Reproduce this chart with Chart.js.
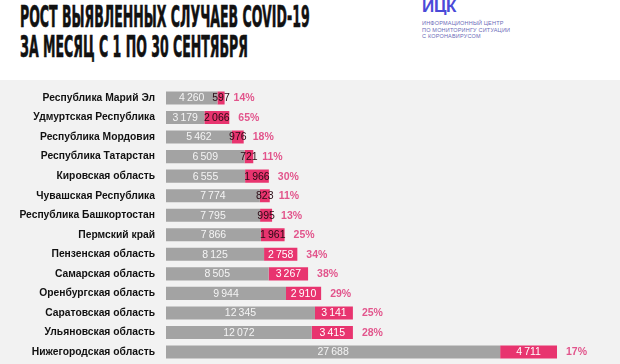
<!DOCTYPE html>
<html><head><meta charset="utf-8">
<script src="https://cdn.jsdelivr.net/npm/chart.js@4"></script>
<style>
html,body{margin:0;padding:0;width:620px;height:364px;overflow:hidden;background:#fff;font-family:"Liberation Sans",Arial,sans-serif;}
#title{position:absolute;left:20px;top:2px;font-family:"Liberation Sans Narrow","DejaVu Sans Condensed",sans-serif;font-weight:bold;font-size:30px;line-height:30px;color:#111;transform:scaleX(0.465);transform-origin:0 0;white-space:nowrap;-webkit-text-stroke:0.6px #111;}
#logo{position:absolute;left:422px;top:-1px;}
#logo .big{font-family:"Liberation Sans",sans-serif;font-weight:bold;font-size:17px;color:#4a4ad8;line-height:16px;letter-spacing:-0.3px;}
#logo .small{font-size:5.5px;line-height:6.5px;color:#6a6ab8;margin-top:5px;letter-spacing:0.2px;}
#panel{position:absolute;left:0;top:80px;width:620px;height:284px;background:#f2f2f2;}
#c{position:absolute;left:0;top:-9px;}
</style></head>
<body>
<div id="title">РОСТ ВЫЯВЛЕННЫХ СЛУЧАЕВ COVID-19<br>ЗА МЕСЯЦ С 1 ПО 30 СЕНТЯБРЯ</div>
<div id="logo"><div class="big">ИЦК</div><div class="small">ИНФОРМАЦИОННЫЙ ЦЕНТР<br>ПО МОНИТОРИНГУ СИТУАЦИИ<br>С КОРОНАВИРУСОМ</div></div>
<div id="panel"><canvas id="c" width="620" height="308"></canvas></div>
<script>
const regions = ["Республика Марий Эл","Удмуртская Республика","Республика Мордовия","Республика Татарстан","Кировская область","Чувашская Республика","Республика Башкортостан","Пермский край","Пензенская область","Самарская область","Оренбургская область","Саратовская область","Ульяновская область","Нижегородская область"];
const baseCases = [4260,3179,5462,6509,6555,7774,7795,7866,8125,8505,9944,12345,12072,27688];
const growthCases = [597,2066,976,721,1966,823,995,1961,2758,3267,2910,3141,3415,4711];
const growthPct = ["14%","65%","18%","11%","30%","11%","13%","25%","34%","38%","29%","25%","28%","17%"];

const fmt = v => String(v).replace(/\B(?=(\d{3})+(?!\d))/g, "\u2009");

const labelPlugin = {
  id: "labels",
  afterDatasetsDraw(chart) {
    const ctx = chart.ctx;
    const m0 = chart.getDatasetMeta(0), m1 = chart.getDatasetMeta(1);
    ctx.save();
    ctx.textBaseline = "middle";
    for (let i = 0; i < regions.length; i++) {
      const b0 = m0.data[i], b1 = m1.data[i];
      ctx.font = "10.5px 'Liberation Sans', Arial, sans-serif";
      ctx.textAlign = "center";
      ctx.fillStyle = "#f4f4f4";
      ctx.fillText(fmt(baseCases[i]), (b0.base + b0.x) / 2, b0.y + 0.5);
      const t = fmt(growthCases[i]);
      const w = ctx.measureText(t).width;
      const segW = b1.x - b1.base;
      ctx.fillStyle = (w + 4 < segW) ? "#ffffff" : "#2a0a14";
      ctx.fillText(t, (b1.base + b1.x) / 2, b1.y + 0.5);
      ctx.textAlign = "left";
      ctx.fillStyle = "#e2558c";
      ctx.font = "bold 10.5px 'Liberation Sans', Arial, sans-serif";
      ctx.fillText(growthPct[i], b1.x + 9, b1.y + 0.5);
    }
    ctx.restore();
  }
};

new Chart(document.getElementById("c"), {
  type: "bar",
  data: {
    labels: regions,
    datasets: [
      { label: "base", data: baseCases, backgroundColor: "#a3a3a3", borderWidth: 0 },
      { label: "growth", data: growthCases, backgroundColor: "#e8346f", borderWidth: 0 }
    ]
  },
  options: {
    indexAxis: "y",
    responsive: false,
    animation: false,
    categoryPercentage: 1,
    barPercentage: 0.67,
    layout: { padding: { top: 7, bottom: 3, right: 10, left: 0 } },
    plugins: { legend: { display: false }, tooltip: { enabled: false } },
    scales: {
      x: { stacked: true, display: false, min: 0, max: 36790 },
      y: {
        stacked: true,
        grid: { display: false, drawTicks: false },
        border: { display: false },
        ticks: { color: "#111", padding: 11, font: { family: "'Liberation Sans', Arial, sans-serif", weight: "bold", size: 10.3 } },
        afterFit(s) { s.width = 166; }
      }
    }
  },
  plugins: [labelPlugin]
});
</script>
</body></html>
